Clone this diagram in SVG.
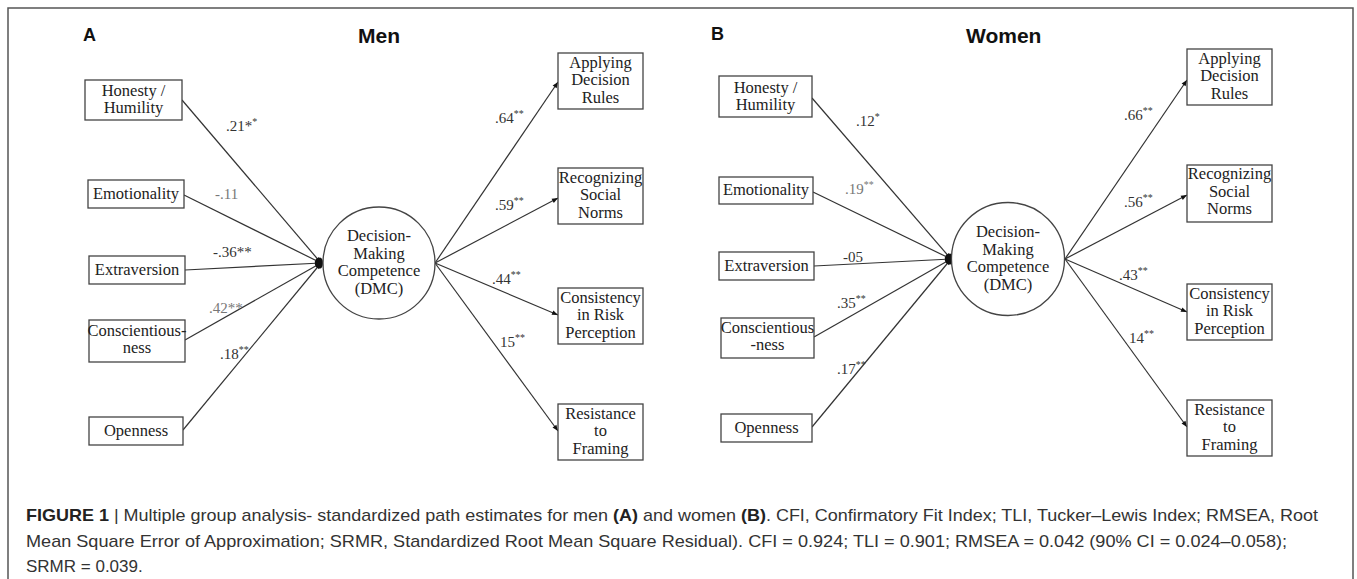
<svg xmlns="http://www.w3.org/2000/svg" width="1357" height="579" viewBox="0 0 1357 579">
<style>
.box{fill:#fff;stroke:#444;stroke-width:1.3}
.circ{fill:#fff;stroke:#444;stroke-width:1.3}
.nt{font-family:"Liberation Serif","Times New Roman",serif;font-size:16.5px;fill:#222;text-anchor:middle}
.lb{font-family:"Liberation Serif","Times New Roman",serif;font-size:15px;fill:#333}
.lg{fill:#777}
.sup{font-size:10px}
.ttl{font-family:"Liberation Sans",Arial,sans-serif;font-weight:bold;fill:#111}
.cap{font-family:"Liberation Sans",Arial,sans-serif;font-size:17px;fill:#333}
.b{font-weight:bold;fill:#222}
.edge{stroke:#333;stroke-width:1.2;fill:none;marker-end:url(#ah)}
</style>
<defs>
<marker id="ah" viewBox="0 0 10 10" refX="10" refY="5" markerWidth="8" markerHeight="6" markerUnits="userSpaceOnUse" orient="auto">
<path d="M0,1 L10,5 L0,9 z" fill="#111"/>
</marker>
</defs>
<rect width="1357" height="579" fill="#fff"/>
<path d="M8,579 V8 H1353 V579" fill="none" stroke="#555" stroke-width="1.5"/>

<g id="titles">
<text class="ttl" x="83" y="41" font-size="18">A</text>
<text class="ttl" x="358" y="43" font-size="21">Men</text>
<text class="ttl" x="711" y="40" font-size="18">B</text>
<text class="ttl" x="966" y="43" font-size="21">Women</text>
</g>

<g id="connectors">
<line class="edge" x1="182" y1="100" x2="321" y2="263"/>
<line class="edge" x1="184" y1="195" x2="321" y2="263"/>
<line class="edge" x1="185" y1="270" x2="321" y2="263"/>
<line class="edge" x1="185" y1="340" x2="321" y2="263"/>
<line class="edge" x1="183" y1="430" x2="321" y2="263"/>
<line class="edge" x1="435" y1="263" x2="558" y2="82"/>
<line class="edge" x1="435" y1="263" x2="558" y2="198"/>
<line class="edge" x1="435" y1="263" x2="558" y2="315"/>
<line class="edge" x1="435" y1="263" x2="558" y2="431"/>
<line class="edge" x1="812" y1="98" x2="951" y2="259"/>
<line class="edge" x1="813" y1="192" x2="951" y2="259"/>
<line class="edge" x1="814" y1="266" x2="951" y2="259"/>
<line class="edge" x1="814" y1="337" x2="951" y2="259"/>
<line class="edge" x1="812" y1="427" x2="951" y2="259"/>
<line class="edge" x1="1065" y1="259" x2="1187" y2="80"/>
<line class="edge" x1="1065" y1="259" x2="1187" y2="195"/>
<line class="edge" x1="1065" y1="259" x2="1187" y2="312"/>
<line class="edge" x1="1065" y1="259" x2="1187" y2="427"/>
<ellipse cx="320" cy="263" rx="3" ry="5.5" fill="#111"/>
<ellipse cx="950" cy="259" rx="3" ry="5.5" fill="#111"/>
</g>

<g id="labels">
<text class="lb" x="226" y="131">.21*<tspan class="sup" dy="-6">*</tspan></text>
<text class="lb lg" x="215" y="199">-.11</text>
<text class="lb" x="213" y="257">-.36**</text>
<text class="lb lg" x="209" y="313">.42**</text>
<text class="lb" x="220" y="359">.18<tspan class="sup" dy="-6">**</tspan></text>
<text class="lb" x="495" y="123">.64<tspan class="sup" dy="-6">**</tspan></text>
<text class="lb" x="495" y="210">.59<tspan class="sup" dy="-6">**</tspan></text>
<text class="lb" x="492" y="284">.44<tspan class="sup" dy="-6">**</tspan></text>
<text class="lb" x="500" y="347">15<tspan class="sup" dy="-6">**</tspan></text>
<text class="lb" x="856" y="126">.12<tspan class="sup" dy="-6">*</tspan></text>
<text class="lb lg" x="845" y="194">.19<tspan class="sup" dy="-6">**</tspan></text>
<text class="lb" x="843" y="262">-05</text>
<text class="lb" x="837" y="308">.35<tspan class="sup" dy="-6">**</tspan></text>
<text class="lb" x="837" y="374">.17<tspan class="sup" dy="-6">**</tspan></text>
<text class="lb" x="1124" y="120">.66<tspan class="sup" dy="-6">**</tspan></text>
<text class="lb" x="1124" y="207">.56<tspan class="sup" dy="-6">**</tspan></text>
<text class="lb" x="1119" y="280">.43<tspan class="sup" dy="-6">**</tspan></text>
<text class="lb" x="1129" y="343">14<tspan class="sup" dy="-6">**</tspan></text>
</g>

<g id="A-honesty"><rect class="box" x="85" y="80" width="97" height="40"/><text class="nt" x="133.5" y="96">Honesty /</text><text class="nt" x="133.5" y="113">Humility</text></g>
<g id="A-emotionality"><rect class="box" x="88" y="180" width="96" height="28"/><text class="nt" x="136" y="199">Emotionality</text></g>
<g id="A-extraversion"><rect class="box" x="89" y="256" width="96" height="28"/><text class="nt" x="137" y="275">Extraversion</text></g>
<g id="A-conscientiousness"><rect class="box" x="89" y="320" width="96" height="42"/><text class="nt" x="137" y="336">Conscientious-</text><text class="nt" x="137" y="353">ness</text></g>
<g id="A-openness"><rect class="box" x="89" y="417" width="94" height="28"/><text class="nt" x="136" y="436">Openness</text></g>
<g id="A-dmc"><circle class="circ" cx="379" cy="263" r="56"/><text class="nt" x="379" y="241">Decision-</text><text class="nt" x="379" y="258.5">Making</text><text class="nt" x="379" y="276">Competence</text><text class="nt" x="379" y="293.5">(DMC)</text></g>
<g id="A-applying"><rect class="box" x="558" y="53" width="85" height="56"/><text class="nt" x="600.5" y="67.5">Applying</text><text class="nt" x="600.5" y="85">Decision</text><text class="nt" x="600.5" y="102.5">Rules</text></g>
<g id="A-recognizing"><rect class="box" x="558" y="168" width="85" height="56"/><text class="nt" x="600.5" y="183">Recognizing</text><text class="nt" x="600.5" y="200">Social</text><text class="nt" x="600.5" y="217.5">Norms</text></g>
<g id="A-consistency"><rect class="box" x="558" y="288" width="85" height="56"/><text class="nt" x="600.5" y="302.5">Consistency</text><text class="nt" x="600.5" y="320">in Risk</text><text class="nt" x="600.5" y="337.5">Perception</text></g>
<g id="A-resistance"><rect class="box" x="558" y="404" width="85" height="56"/><text class="nt" x="600.5" y="418.5">Resistance</text><text class="nt" x="600.5" y="436">to</text><text class="nt" x="600.5" y="453.5">Framing</text></g>

<g id="B-honesty"><rect class="box" x="719" y="76" width="93" height="41"/><text class="nt" x="765.5" y="92.5">Honesty /</text><text class="nt" x="765.5" y="109.5">Humility</text></g>
<g id="B-emotionality"><rect class="box" x="719" y="177" width="94" height="27"/><text class="nt" x="766" y="195">Emotionality</text></g>
<g id="B-extraversion"><rect class="box" x="719" y="252" width="95" height="28"/><text class="nt" x="766.5" y="271">Extraversion</text></g>
<g id="B-conscientiousness"><rect class="box" x="721" y="318" width="93" height="40"/><text class="nt" x="767.5" y="333">Conscientious</text><text class="nt" x="767.5" y="350">-ness</text></g>
<g id="B-openness"><rect class="box" x="721" y="414" width="91" height="28"/><text class="nt" x="766.5" y="433">Openness</text></g>
<g id="B-dmc"><circle class="circ" cx="1008" cy="259" r="56.5"/><text class="nt" x="1008" y="237">Decision-</text><text class="nt" x="1008" y="254.5">Making</text><text class="nt" x="1008" y="272">Competence</text><text class="nt" x="1008" y="289.5">(DMC)</text></g>
<g id="B-applying"><rect class="box" x="1187" y="49" width="85" height="56"/><text class="nt" x="1229.5" y="63.5">Applying</text><text class="nt" x="1229.5" y="81">Decision</text><text class="nt" x="1229.5" y="98.5">Rules</text></g>
<g id="B-recognizing"><rect class="box" x="1187" y="165" width="85" height="57"/><text class="nt" x="1229.5" y="179">Recognizing</text><text class="nt" x="1229.5" y="196.5">Social</text><text class="nt" x="1229.5" y="214">Norms</text></g>
<g id="B-consistency"><rect class="box" x="1187" y="284" width="85" height="56"/><text class="nt" x="1229.5" y="298.5">Consistency</text><text class="nt" x="1229.5" y="316">in Risk</text><text class="nt" x="1229.5" y="333.5">Perception</text></g>
<g id="B-resistance"><rect class="box" x="1187" y="400" width="85" height="56"/><text class="nt" x="1229.5" y="414.5">Resistance</text><text class="nt" x="1229.5" y="432">to</text><text class="nt" x="1229.5" y="449.5">Framing</text></g>

<g id="caption">
<text class="cap" x="26" y="521" textLength="1292" lengthAdjust="spacingAndGlyphs"><tspan class="b">FIGURE 1</tspan> | Multiple group analysis- standardized path estimates for men <tspan class="b">(A)</tspan> and women <tspan class="b">(B)</tspan>. CFI, Confirmatory Fit Index; TLI, Tucker–Lewis Index; RMSEA, Root</text>
<text class="cap" x="26" y="547" textLength="1261" lengthAdjust="spacingAndGlyphs">Mean Square Error of Approximation; SRMR, Standardized Root Mean Square Residual). CFI = 0.924; TLI = 0.901; RMSEA = 0.042 (90% CI = 0.024–0.058);</text>
<text class="cap" x="26" y="572">SRMR = 0.039.</text>
</g>
</svg>
